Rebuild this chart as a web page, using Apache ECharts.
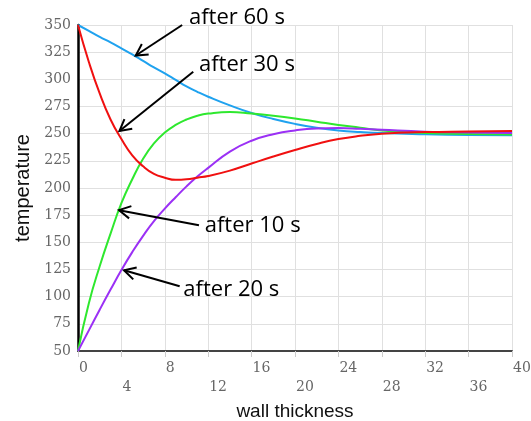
<!DOCTYPE html>
<html>
<head>
<meta charset="utf-8">
<script src="https://cdn.jsdelivr.net/npm/echarts@6/dist/echarts.min.js"></script>
<style>
  html, body { margin: 0; padding: 0; background: #fff; }
  #chart { width: 531px; height: 421px; }
</style>
</head>
<body>
<div id="chart"></div>
<script>
// wall thickness positions where the curves were read
const thickness = [0, 1, 2, 3, 4, 5, 6, 7, 8, 9, 10, 11, 12, 14, 16, 18, 20, 22, 24, 26, 28, 32, 36, 40];

const after60 = [350, 344.5, 339, 334, 328.5, 323, 317, 311, 305.5, 299.5, 293.5, 288.5, 284, 276, 269, 263.5, 259, 255.5, 253, 251.5, 250.5, 249.5, 248.8, 248.5];
const after30 = [350, 316, 287, 263, 245, 230, 220, 213, 209.5, 207.5, 208, 209.5, 211, 216, 222.5, 229, 235, 240.5, 245, 248, 250, 251.5, 252, 252.5];
const after10 = [50, 94, 128, 158, 186, 208, 227, 241, 251, 258, 263, 266.5, 268.5, 270, 268.5, 266.5, 264, 261, 258, 255.5, 253, 250.6, 249.7, 249.2];
const after20 = [50, 69, 88, 106.5, 124.5, 141, 156, 169.5, 181, 191.5, 201.5, 210.5, 218.5, 233.5, 243.5, 249.5, 253, 254.8, 255.2, 254.5, 253.5, 251.8, 251, 250.5];

// annotations (data coordinates)
const noteText = ['after 60 s', 'after 30 s', 'after 10 s', 'after 20 s'];
const noteTipX = [5.32, 3.82, 3.78, 4.24];
const noteTipY = [321.9, 252.4, 179.6, 124.3];
const noteTailX = [9.6, 10.62, 11.15, 9.37];
const noteTailY = [350, 307, 165.8, 109.6];
const noteLabelX = [10.23, 11.15, 11.68, 9.71];
const noteLabelY = [356.4, 313.2, 165.2, 106.8];

const chart = echarts.init(document.getElementById('chart'));

function pairs(ys) {
    return thickness.map((x, i) => [x, ys[i]]);
}

function curve(name, ys, color) {
    return {
        name: name,
        type: 'line',
        data: pairs(ys),
        smooth: 0.5,
        showSymbol: false,
        silent: true,
        lineStyle: { color: color, width: 2 },
        itemStyle: { color: color }
    };
}

const notes = noteText.map((t, i) => [noteTipX[i], noteTipY[i], noteTailX[i], noteTailY[i], noteLabelX[i], noteLabelY[i]]);

function renderNote(params, api) {
    const tip = api.coord([api.value(0), api.value(1)]);
    const tail = api.coord([api.value(2), api.value(3)]);
    const lab = api.coord([api.value(4), api.value(5)]);
    const ang = Math.atan2(tip[1] - tail[1], tip[0] - tail[0]);
    const len = 13, spread = 0.5;
    const a1 = [tip[0] - len * Math.cos(ang - spread), tip[1] - len * Math.sin(ang - spread)];
    const a2 = [tip[0] - len * Math.cos(ang + spread), tip[1] - len * Math.sin(ang + spread)];
    return {
        type: 'group',
        children: [
            {
                type: 'line',
                shape: { x1: tail[0], y1: tail[1], x2: tip[0], y2: tip[1] },
                style: { stroke: '#000', lineWidth: 2 }
            },
            {
                type: 'polyline',
                shape: { points: [a1, tip, a2] },
                style: { stroke: '#000', lineWidth: 2, fill: null }
            },
            {
                type: 'text',
                style: {
                    text: noteText[params.dataIndex],
                    x: lab[0],
                    y: lab[1],
                    fill: '#000',
                    font: '22px "Open Sans"',
                    align: 'left',
                    verticalAlign: 'middle'
                }
            }
        ]
    };
}

chart.setOption({
    animation: false,
    backgroundColor: '#fff',
    grid: {
        left: 78,
        right: 19,
        top: 25,
        bottom: 70,
        containLabel: false,
        outerBoundsMode: 'none'
    },
    xAxis: {
        type: 'value',
        min: 0,
        max: 40,
        interval: 4,
        name: 'wall thickness',
        nameLocation: 'middle',
        nameGap: 43,
        nameTextStyle: { fontSize: 19, fontFamily: 'Liberation Sans', color: '#111' },
        axisLine: { show: true, lineStyle: { color: '#444', width: 2 } },
        axisTick: { show: true, length: 6, lineStyle: { color: '#ccc' } },
        splitLine: { show: true, lineStyle: { color: '#e0e0e0', width: 1 } },
        axisLabel: {
            interval: 0,
            margin: 8,
            align: 'left',
            padding: [0, 0, 0, 1],
            fontFamily: 'DejaVu Serif',
            fontSize: 14,
            lineHeight: 19,
            color: '#666',
            formatter: function (v) {
                return (v / 4) % 2 === 1 ? '\n' + v : '' + v;
            }
        }
    },
    yAxis: {
        type: 'value',
        min: 50,
        max: 350,
        interval: 25,
        name: 'temperature',
        nameLocation: 'middle',
        nameGap: 41,
        nameTextStyle: { fontSize: 20, fontFamily: 'Liberation Sans', color: '#111' },
        axisLine: { show: true, lineStyle: { color: '#000', width: 2.5 } },
        axisTick: { show: false },
        splitLine: { show: true, lineStyle: { color: '#e0e0e0', width: 1 } },
        axisLabel: {
            margin: 7,
            fontFamily: 'DejaVu Serif',
            fontSize: 14,
            lineHeight: 14,
            color: '#666',
            verticalAlign: 'middle',
            padding: [0, 0, 7, 0]
        }
    },
    series: [
        curve('after 60 s', after60, '#1fa2ef'),
        curve('after 10 s', after10, '#2ee82e'),
        curve('after 20 s', after20, '#9b30f5'),
        curve('after 30 s', after30, '#f01010'),
        {
            type: 'custom',
            silent: true,
            clip: false,
            renderItem: renderNote,
            encode: { x: [0, 2, 4], y: [1, 3, 5] },
            data: notes,
            z: 10
        }
    ]
});
</script>
</body>
</html>
